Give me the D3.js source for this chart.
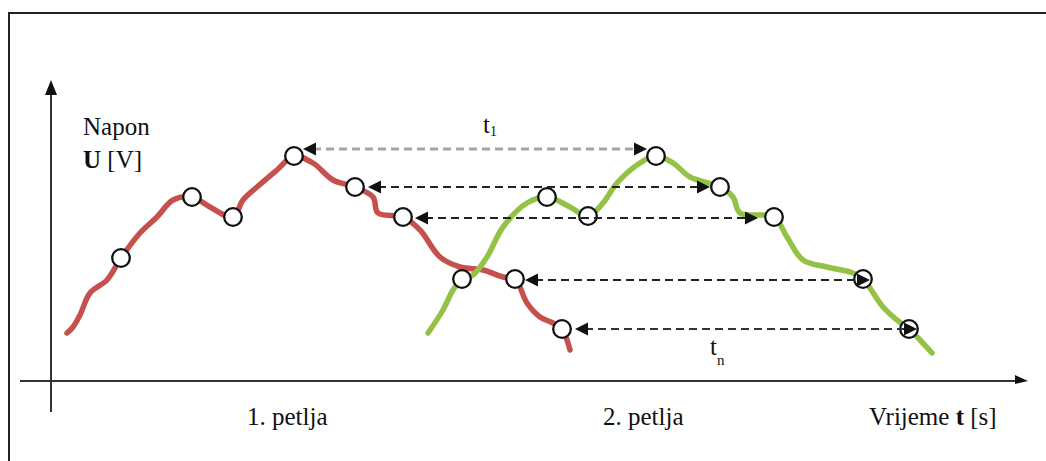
<!DOCTYPE html>
<html>
<head>
<meta charset="utf-8">
<script src="https://cdn.jsdelivr.net/npm/d3@7"></script>
<style>
  html, body { margin: 0; padding: 0; background: #fff; }
  svg { display: block; }
  text { font-family: "Liberation Serif", "Times New Roman", serif; fill: #111; }
</style>
</head>
<body>
<svg id="chart" width="1046" height="461"></svg>
<script>
// ---- data (time t in arbitrary units, voltage U in arbitrary units) ----
const loop1T = [1.7, 2.3, 3.0, 4.0, 5.7, 7.1, 9.0, 10.7, 12.3, 14.2, 16.0, 18.3, 19.3, 20.7, 22.7, 24.4, 26.3, 28.3, 30.5, 32.3, 32.8, 35.3, 37.0, 39.0, 41.0, 43.3, 45.3, 46.5, 47.7, 49.0, 50.3, 51.2, 52.0];
const loop1U = [4.8, 5.4, 6.6, 8.8, 10.1, 12.3, 14.8, 16.4, 18.1, 18.4, 17.4, 16.4, 18.1, 19.4, 21.1, 22.5, 21.8, 20.1, 19.4, 18.4, 16.8, 16.4, 15.1, 12.4, 11.4, 11.1, 10.4, 10.2, 7.8, 6.4, 5.8, 5.2, 3.1];
const loop1Marked = [5, 9, 11, 15, 18, 21, 27, 31];

const loop2T = [37.8, 39.3, 40.3, 41.2, 42.3, 43.7, 45.3, 47.7, 49.7, 52.0, 53.8, 55.3, 56.7, 59.0, 60.6, 62.3, 64.0, 67.0, 68.3, 69.0, 72.4, 73.7, 75.3, 77.7, 80.3, 81.3, 83.3, 84.7, 85.9, 87.0, 88.2];
const loop2U = [4.8, 7.1, 9.1, 10.2, 10.6, 12.4, 15.4, 17.8, 18.4, 17.4, 16.5, 17.8, 19.8, 21.8, 22.5, 21.8, 20.4, 19.4, 18.4, 16.8, 16.4, 14.4, 12.1, 11.4, 10.8, 10.2, 7.4, 6.1, 5.2, 4.1, 2.8];
const loop2Marked = [3, 8, 10, 14, 17, 20, 25, 28];

// time-shift arrows: level U, start t (loop 1 side), end t (loop 2 side)
const shiftU     = [23.2, 19.4, 16.3, 10.1, 5.2];
const shiftFromT = [25.3, 31.8, 36.5, 47.5, 52.5];
const shiftToT   = [59.7, 66.0, 70.8, 82.0, 86.7];
const shiftTone  = ["grey", "black", "black", "black", "mixed"];

const loopLabels = ["1. petlja", "2. petlja"];
const loopLabelT = [19.7, 55.3];

// ---- drawing ----
const svg = d3.select("#chart");
const x = d3.scaleLinear().domain([0, 98]).range([50, 1030]);
const y = d3.scaleLinear().domain([0, 30]).range([381, 81]);

const RED = "#c6504c", GREEN = "#93c246";

// frame (top and left edges)
svg.append("path").attr("d", "M9,461 V13 H1046").attr("fill", "none")
  .attr("stroke", "#222").attr("stroke-width", 2);

// axes
const axisColor = "#333";
svg.append("line").attr("x1", x(0.1)).attr("x2", x(0.1)).attr("y1", y(-3.1)).attr("y2", y(29))
  .attr("stroke", axisColor).attr("stroke-width", 2);
svg.append("path").attr("fill", "#111")
  .attr("d", `M${x(0.1)},${y(30.1)} L${x(0.1) - 6},${y(28.6)} L${x(0.1) + 6},${y(28.6)} Z`);
svg.append("line").attr("x1", x(-3)).attr("x2", x(96.6)).attr("y1", y(0)).attr("y2", y(0))
  .attr("stroke", axisColor).attr("stroke-width", 2);
svg.append("path").attr("fill", "#111")
  .attr("d", `M${x(97.8)},${y(0)} L${x(96.5)},${y(0) - 6} L${x(96.5)},${y(0) + 3} Z`);

// curves
const line = d3.line().x(d => x(d[0])).y(d => y(d[1])).curve(d3.curveCatmullRom.alpha(0.5));
const loops = [
  { t: loop1T, u: loop1U, marked: loop1Marked, color: RED },
  { t: loop2T, u: loop2U, marked: loop2Marked, color: GREEN }
];
loops.forEach(l => {
  const pts = l.t.map((t, i) => [t, l.u[i]]);
  svg.append("path").datum(pts).attr("d", line).attr("fill", "none")
    .attr("stroke", l.color).attr("stroke-width", 5.5)
    .attr("stroke-linecap", "round").attr("stroke-linejoin", "round");
});
loops.forEach(l => {
  svg.selectAll(null).data(l.marked).join("circle")
    .attr("cx", i => x(l.t[i])).attr("cy", i => y(l.u[i])).attr("r", 8.8)
    .attr("fill", "#fff").attr("stroke", "#111").attr("stroke-width", 2.3);
});

// dashed time-shift arrows
function head(tipX, tipY, dir) {
  const L = 13, H = 6.5;
  return `M${tipX},${tipY} L${tipX - dir * L},${tipY - H} L${tipX - dir * L},${tipY + H} Z`;
}
shiftU.forEach((u, i) => {
  const x1 = x(shiftFromT[i]), x2 = x(shiftToT[i]), yy = y(u);
  const grey = shiftTone[i] === "grey";
  svg.append("line").attr("x1", x1 + 10).attr("x2", x2 - 10).attr("y1", yy).attr("y2", yy)
    .attr("stroke", grey ? "#a5a5a5" : (shiftTone[i] === "mixed" ? "#333" : "#222"))
    .attr("stroke-width", grey ? 3 : 2.2)
    .attr("stroke-dasharray", "8,5");
  svg.append("path").attr("d", head(x1, yy, -1)).attr("fill", "#111");
  svg.append("path").attr("d", head(x2, yy, 1)).attr("fill", "#111");
});

// labels
svg.append("text").attr("x", 83).attr("y", 135).attr("font-size", 25).text("Napon");
const uv = svg.append("text").attr("x", 83).attr("y", 168).attr("font-size", 25);
uv.append("tspan").attr("font-weight", "bold").text("U");
uv.append("tspan").text(" [V]");

const t1 = svg.append("text").attr("x", 483).attr("y", 133).attr("font-size", 25);
t1.append("tspan").text("t");
t1.append("tspan").attr("font-size", 14).attr("dy", 3).text("1");

const tn = svg.append("text").attr("x", 710).attr("y", 355).attr("font-size", 25);
tn.append("tspan").text("t");
tn.append("tspan").attr("font-size", 15).attr("dy", 10).text("n");

svg.selectAll(null).data(loopLabels).join("text")
  .attr("x", (d, i) => x(loopLabelT[i])).attr("y", 425).attr("font-size", 25)
  .text(d => d);

const vt = svg.append("text").attr("x", 869).attr("y", 425).attr("font-size", 25);
vt.append("tspan").text("Vrijeme ");
vt.append("tspan").attr("font-weight", "bold").text("t");
vt.append("tspan").text(" [s]");
</script>
</body>
</html>
